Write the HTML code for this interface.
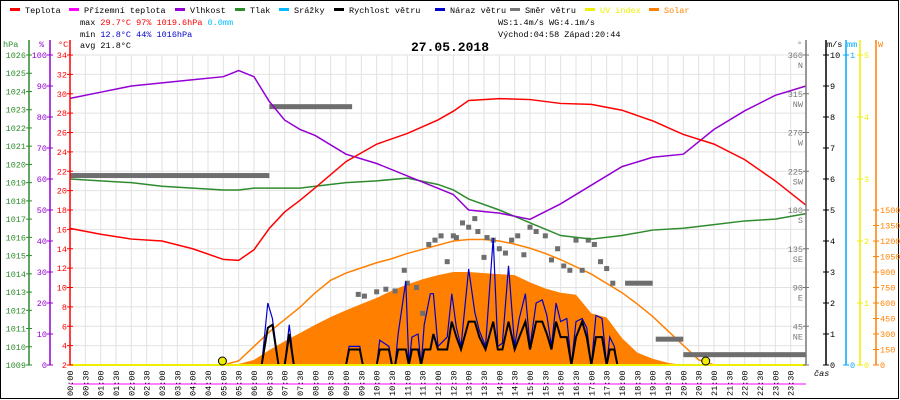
<!DOCTYPE html>
<html><head><meta charset="utf-8"><style>
body{margin:0;background:#fff}
svg{display:block;font-family:"Liberation Mono",monospace;font-size:8.5px}
</style></head><body>
<svg id="c" width="900" height="400" viewBox="0 0 900 400">
<rect x="0.5" y="0.5" width="898" height="398" fill="#fff" stroke="#000"/>
<g id="grid"></g>
<g id="solar"></g>
<g id="lines"></g>
<g id="axes"></g>
<g id="legend"></g>
<text x="80" y="25">max <tspan fill="#f00">29.7°C  97%  1019.6hPa</tspan>   <tspan fill="#0bf">0.0mm</tspan></text>
<text x="80" y="37">min <tspan fill="#00c">12.8°C  44%  1016hPa</tspan></text>
<text x="80" y="48">avg 21.8°C</text>
<text x="498" y="25">WS:1.4m/s    WG:4.1m/s</text>
<text x="498" y="37">Východ:04:58 Západ:20:44</text>
<text x="450" y="51" text-anchor="middle" font-weight="bold" font-size="13">27.05.2018</text>
</svg>
<script>
const hours=[0,1,2,3,4,5,5.5,6,6.5,7,7.5,8,9,10,11,12,12.5,13,14,15,16,17,18,19,20,21,22,23,24];
const temp=[16.1,15.5,15.0,14.8,14.0,12.9,12.8,13.9,16.1,17.8,19.0,20.3,23.0,24.8,25.9,27.3,28.2,29.3,29.5,29.4,29.0,28.9,28.3,27.2,25.8,24.8,23.2,21.0,18.5];
const humid=[86,88,90,91,92,93,95,93,85,79,76,74,68,65,61,57,55,50,49,47,52,58,64,67,68,76,82,87,90];
const press=[1019.2,1019.1,1019.0,1018.8,1018.7,1018.6,1018.6,1018.7,1018.7,1018.7,1018.7,1018.8,1019.0,1019.1,1019.25,1018.9,1018.6,1018.1,1017.5,1016.8,1016.1,1015.9,1016.1,1016.4,1016.5,1016.7,1016.9,1017.0,1017.3];
const solarVals=[0,0,0,0,0,0,0,0,0,0,0,10,50,145,230,310,390,465,530,590,650,720,780,830,870,900,900,890,880,870,800,740,700,680,500,460,260,120,60,20,0,0,0,0,0,0,0,0,0];
const solarTheo=[0,0,0,0,0,0,0,0,0,0,0,40,180,320,440,560,700,820,890,940,990,1030,1080,1120,1160,1200,1215,1215,1200,1170,1130,1080,1020,950,880,790,700,590,470,330,190,50,0,0,0,0,0,0,0];
const windT=[0,6.25,6.45,6.6,6.8,7.0,7.15,7.3,9.0,9.1,9.45,9.55,10.0,10.1,10.4,10.5,10.6,10.7,10.95,11.05,11.15,11.35,11.45,11.55,11.75,11.85,12.0,12.3,12.45,12.6,12.75,13.0,13.2,13.35,13.55,13.8,13.95,14.1,14.3,14.5,14.65,14.85,15.0,15.2,15.4,15.55,15.7,15.85,16.0,16.2,16.35,16.5,16.7,16.85,17.0,17.15,17.35,17.5,17.6,17.75,17.85,24];
const windV=[0,0,1.2,1.3,0,0,1.0,0,0,0.5,0.5,0,0,0.5,0.5,0,0,0.5,0.5,0,0.5,0.5,0,0.5,0.5,1.0,0.5,0.5,1.4,0.9,0.5,1.4,1.4,0.9,0.5,1.4,0.5,0.5,1.4,0.5,0.9,1.4,0.5,1.4,1.4,1.0,0.5,1.4,0.9,0.9,0,0.9,1.4,0.9,0,0.9,0.9,0,0.5,0.5,0,0];
const gustV=[0,0,2.0,1.5,0,0,1.3,0,0,0.6,0.6,0,0,0.8,0.6,0,0,1.0,2.7,0,0.9,1.0,0,1.3,2.3,2.3,0.6,0.9,2.3,1.2,0.6,3.1,1.7,1.1,0.6,4.1,0.6,0.7,3.2,0.6,1.5,2.3,0.6,2.0,2.1,1.6,0.6,2.0,1.4,1.5,0,1.4,1.5,1.2,0,1.6,1.5,0,0.9,0.6,0,0];
const dirBarStart=[0,6.5,18.1,19.1,20.0];
const dirBarEnd=[6.5,9.2,19.0,20.0,24.0];
const dirBarDeg=[220,300,95,30,12];
const dirHours=[9.4,9.6,10.0,10.3,10.6,10.9,11.0,11.3,11.5,11.7,11.9,12.1,12.3,12.5,12.6,12.8,13.0,13.2,13.3,13.5,13.6,13.8,14.0,14.2,14.4,14.6,14.8,15.0,15.2,15.5,15.7,15.9,16.1,16.3,16.5,16.7,16.9,17.1,17.3,17.5,17.7];
const dirDegs=[82,80,85,88,86,110,95,90,60,140,145,150,120,150,148,165,160,170,155,125,148,145,135,130,145,150,128,160,155,150,122,135,115,110,145,110,145,140,120,112,95];
const tickTimes=[];for(let i=0;i<=47;i++)tickTimes.push(String(Math.floor(i/2)).padStart(2,'0')+':'+(i%2?'30':'00'));

const NS='http://www.w3.org/2000/svg';
const X0=70,X1=806,YT=55,YB=365;
const xH=h=>X0+h*(X1-X0)/24;
const yT=t=>YB-(t-2)*(YB-YT)/32;
const yP=p=>YB-(p-1009)*(YB-YT)/17;
const yHu=v=>YB-v*(YB-YT)/100;
const yW=v=>YB-v*(YB-YT)/10;
const yS=v=>YB-v*0.1033;
const yD=d=>YB-d*(YB-YT)/360;
function el(tag,attrs,parent,txt){const e=document.createElementNS(NS,tag);for(const k in attrs)e.setAttribute(k,attrs[k]);if(txt!==undefined)e.textContent=txt;parent.appendChild(e);return e;}
const G=id=>document.getElementById(id);

for(let i=0;i<=48;i++){const x=X0+i*(X1-X0)/48;const l=el('line',{x1:x,x2:x,y1:YT,y2:YB,stroke:'#e2e2e2'},G('grid'));

}
for(let t=4;t<=34;t+=2){const l=el('line',{x1:X0,x2:X1,y1:yT(t),y2:yT(t),stroke:'#e2e2e2'},G('grid'));

}

let d='M'+X0+','+YB;solarVals.forEach((v,i)=>{d+=' L'+xH(i/2)+','+yS(v);});d+=' L'+X1+','+YB+'Z';
const sa=el('path',{d:d,fill:'#ff8000'},G('solar'));


const st=el('polyline',{points:solarTheo.map((v,i)=>xH(i/2)+','+yS(v)).join(' '),fill:'none',stroke:'#ff8000','stroke-width':1.5},G('solar'));



dirBarStart.forEach((s,i)=>{const r=el('rect',{x:xH(s),y:yD(dirBarDeg[i])-2.5,width:xH(dirBarEnd[i])-xH(s),height:5,fill:'#6e6e6e'},G('lines'));

});
dirHours.forEach((h,i)=>{const r=el('rect',{x:xH(h)-2.5,y:yD(dirDegs[i])-2.5,width:5,height:5,fill:'#6e6e6e'},G('lines'));

});

function line(xs,vals,yf,color,w,name){const p=el('polyline',{points:vals.map((v,i)=>xH(xs[i])+','+yf(v)).join(' '),fill:'none',stroke:color,'stroke-width':w},G('lines'));

}
line(hours,press,yP,'#2e8b2e',1.5,'pressure-line');
line(hours,humid,yHu,'#9400d3',1.5,'humidity-line');
line(hours,temp,yT,'#f00',1.5,'temperature-line');
line(windT,gustV,yW,'#00c',1.2,'wind-gust-line');
line(windT,windV,yW,'#000',2,'wind-speed-line');
const uv=el('line',{x1:X0,x2:X1,y1:YB,y2:YB,stroke:'#ee0','stroke-width':2},G('lines'));


[4.97,20.73].forEach(h=>{const c=el('circle',{cx:xH(h),cy:YB-4,r:4,fill:'#ee0',stroke:'#000'},G('lines'));

});

const A=G('axes');
function vaxis(x,color,ticks,yf,labFn,side,name,top){const g=el('g',{},A);


el('line',{x1:x,x2:x,y1:top,y2:YB,stroke:color,'stroke-width':1.5},g);
ticks.forEach(v=>{const y=yf(v);el('line',{x1:x-3,x2:x+3,y1:y,y2:y,stroke:color},g);
const lab=labFn(v);const lines=Array.isArray(lab)?lab:[lab];
lines.forEach((s,k)=>el('text',{x:side<0?x-3:x+4,y:y+3+k*10,'text-anchor':side<0?'end':'start',fill:color},g,s));});}
const pT=[];for(let p=1009;p<=1026;p++)pT.push(p);
vaxis(29,'#2e8b2e',pT,yP,v=>String(v),-1,'pressure-axis',40);
vaxis(50,'#9400d3',[0,10,20,30,40,50,60,70,80,90,100],yHu,v=>String(v),-1,'humidity-axis',40);
const tT=[];for(let t=2;t<=34;t+=2)tT.push(t);
vaxis(70,'#f00',tT,yT,v=>String(v),-1,'temperature-axis',40);
const dN={0:'',45:'NE',90:'E',135:'SE',180:'S',225:'SW',270:'W',315:'NW',360:'N'};
vaxis(806,'#777',[0,45,90,135,180,225,270,315,360],yD,v=>v?[String(v),dN[v]]:'',-1,'wind-direction-axis',40);
vaxis(826,'#000',[0,1,2,3,4,5,6,7,8,9,10],yW,v=>String(v),1,'wind-speed-axis',40);
vaxis(846,'#0af',[0,1],v=>YB-v*(YB-YT),v=>String(v),1,'rain-axis',40);
vaxis(860,'#ee0',[0,1,2,3,4,5],v=>YB-v*(YB-YT)/5,v=>String(v),1,'uv-axis',40);
const wT=[];for(let w=0;w<=1500;w+=150)wT.push(w);
vaxis(876,'#ff8000',wT,yS,v=>String(v),1,'solar-axis',40);
[['hPa',3,'#2e8b2e'],['%',39,'#9400d3'],['°C',58,'#f00'],['°',797,'#777'],['m/s',827,'#000'],['mm',847,'#0af'],['W',878,'#ff8000']].forEach(u=>{
const t=el('text',{x:u[1],y:47,fill:u[2]},A,u[0]);

});
const ml=el('line',{x1:X0,x2:X1,y1:384,y2:384,stroke:'#f0f'},A);


tickTimes.forEach((s,i)=>{const x=X0+i*(X1-X0)/48;
const t=el('text',{x:0,y:0,transform:`translate(${x+3},396) rotate(-90)`},A,s);

});
const cas=el('text',{x:814,y:376,'font-style':'italic'},A,'čas');



const L=G('legend');
[['Teplota','#f00',25],['Přízemní teplota','#f0f',84],['Vlhkost','#9400d3',190],['Tlak','#2e8b2e',250],['Srážky','#0bf',294],['Rychlost větru','#000',349],['Náraz větru','#00c',450],['Směr větru','#777',525],['UV index','#ee0',600],['Solar','#ff8000',664]].forEach(it=>{
const g=el('g',{},L);


el('rect',{x:it[2]-15,y:8,width:10,height:3,fill:it[1]},g);
el('text',{x:it[2],y:13,fill:['#ee0','#ff8000'].includes(it[1])?it[1]:'#000'},g,it[0]);});
</script>
</body></html>
